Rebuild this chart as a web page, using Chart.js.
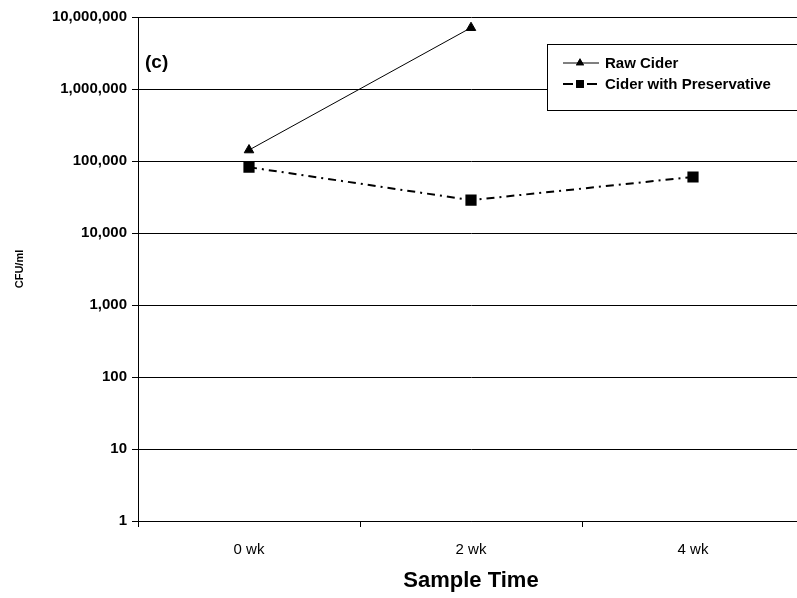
<!DOCTYPE html>
<html>
<head>
<meta charset="utf-8">
<script src="https://cdn.jsdelivr.net/npm/chart.js@4/dist/chart.umd.min.js"></script>
<style>
  html, body { margin:0; padding:0; background:#fff; overflow:hidden; }
  #wrap { width:830px; height:598px; }
</style>
</head>
<body>
<div id="wrap"><canvas id="c" width="830" height="598"></canvas></div>
<script>
// sample times and counts (CFU/ml)
const sampleTimes = ['0 wk', '2 wk', '4 wk'];
const rawCider = [142000, 7100000, null];
const ciderPreserved = [82000, 28600, 60000];
const yTickValues = [1, 10, 100, 1000, 10000, 100000, 1000000, 10000000];
const seriesNames = ['Raw Cider', 'Cider with Preservative'];

const FONT = '"Liberation Sans", Arial, sans-serif';

// boxed legend in the upper right, drawn over the grid
const boxLegend = {
  id: 'boxLegend',
  afterDraw(chart) {
    const ctx = chart.ctx;
    ctx.save();
    ctx.fillStyle = '#fff';
    ctx.strokeStyle = '#000';
    ctx.lineWidth = 1;
    ctx.fillRect(547, 44, 300, 66);
    ctx.strokeRect(547.5, 44.5, 300, 66);
    const rows = [63, 84];
    chart.data.datasets.forEach((ds, i) => {
      const y = rows[i];
      ctx.strokeStyle = '#000';
      ctx.lineWidth = ds.borderWidth;
      ctx.setLineDash(i === 1 ? [10, 14] : []);
      ctx.beginPath(); ctx.moveTo(563, y); ctx.lineTo(599, y); ctx.stroke();
      ctx.setLineDash([]);
      ctx.fillStyle = '#000';
      Chart.helpers.drawPoint(ctx, { pointStyle: ds.pointStyle, radius: ds.pointRadius * 0.85, rotation: 0, borderWidth: 0 }, 580, y);
      ctx.fill();
      ctx.font = 'bold 15px ' + FONT;
      ctx.textBaseline = 'middle';
      ctx.textAlign = 'left';
      ctx.fillText(ds.label, 605, y + 1);
    });
    // panel tag
    ctx.font = 'bold 19px ' + FONT;
    ctx.textBaseline = 'middle';
    ctx.fillText('(c)', 145, 63);
    ctx.restore();
  }
};

new Chart(document.getElementById('c'), {
  type: 'line',
  data: {
    labels: sampleTimes,
    datasets: [
      {
        label: seriesNames[0],
        data: rawCider,
        borderColor: '#000', backgroundColor: '#000',
        borderWidth: 1,
        pointStyle: 'triangle', pointRadius: 5.5,
        spanGaps: false
      },
      {
        label: seriesNames[1],
        data: ciderPreserved,
        borderColor: '#000', backgroundColor: '#000',
        borderWidth: 2, borderDash: [8, 5, 2, 5],
        pointStyle: 'rect', pointRadius: 6.5
      }
    ]
  },
  options: {
    responsive: false,
    animation: false,
    layout: { padding: { top: 17, right: 26, left: 0, bottom: 0 } },
    plugins: { legend: { display: false }, tooltip: { enabled: false } },
    scales: {
      x: {
        type: 'category',
        offset: true,
        border: { color: '#000', width: 1 },
        grid: { offset: true, drawOnChartArea: false, color: '#000', tickLength: 6 },
        ticks: { color: '#000', padding: 14, font: { family: FONT, size: 15 } },
        title: { display: true, text: 'Sample Time', color: '#000', padding: { top: 4 },
                 font: { family: FONT, size: 22, weight: 'bold' } },
        afterFit(s) { s.height = 77; }
      },
      y: {
        type: 'logarithmic',
        min: 1, max: 10000000,
        border: { color: '#000', width: 1 },
        grid: { color: '#000', lineWidth: 1, tickLength: 6 },
        afterBuildTicks(s) { s.ticks = yTickValues.map(v => ({ value: v })); },
        ticks: {
          color: '#000', padding: 5,
          font: { family: FONT, size: 15, weight: 'bold' },
          callback: v => Number(v).toLocaleString('en-US')
        },
        title: { display: true, text: 'CFU/ml', color: '#000', padding: { top: 13, bottom: 0 },
                 font: { family: FONT, size: 11, weight: 'bold' } },
        afterFit(s) { s.width = 138; }
      }
    }
  },
  plugins: [boxLegend]
});
</script>
</body>
</html>
